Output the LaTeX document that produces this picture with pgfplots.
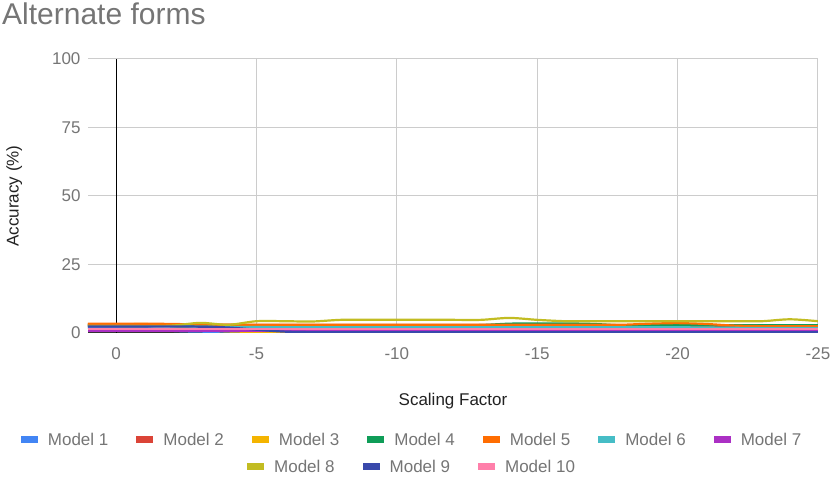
\documentclass[border=0pt]{standalone}
\usepackage{fontspec}
\setmainfont{Liberation Sans}
\usepackage{pgfplots}
\pgfplotsset{compat=1.18}
\usepackage{pgfplotstable}
\definecolor{c1}{HTML}{4285F4}
\definecolor{c2}{HTML}{DB4437}
\definecolor{c3}{HTML}{F4B400}
\definecolor{c4}{HTML}{0F9D58}
\definecolor{c5}{HTML}{FF6D01}
\definecolor{c6}{HTML}{46BDC6}
\definecolor{c7}{HTML}{AB30C4}
\definecolor{c8}{HTML}{C2BC22}
\definecolor{c9}{HTML}{3949AB}
\definecolor{c10}{HTML}{FF7FAA}
\definecolor{tickgray}{HTML}{757575}
\definecolor{labeldark}{HTML}{222222}
\definecolor{gridgray}{HTML}{CCCCCC}
\definecolor{axisdark}{HTML}{333333}

\pgfplotstableread{
x   m1  m2  m3  m4  m5  m6  m7  m8  m9  m10
1   1.9 3.2 3.0 2.8 3.4 2.6 0.8 2.5 2.4 1.4
0   1.9 3.2 3.0 2.8 3.4 2.6 0.8 2.5 2.4 1.4
-1  1.8 3.2 3.3 2.8 3.4 2.5 0.8 2.5 2.4 1.4
-2  0.8 3.2 2.5 2.8 3.3 2.4 0.8 2.7 2.4 1.4
-3  0.5 3.1 1.2 2.8 3.1 2.3 0.8 3.7 2.3 1.4
-4  0.5 3.0 0.6 2.8 3.0 2.2 0.8 3.0 2.0 1.4
-5  0.5 2.9 0.4 2.8 3.0 2.2 0.8 4.3 1.2 1.4
-6  0.5 2.9 0.3 2.8 3.0 2.1 0.8 4.3 0.5 1.4
-7  0.5 2.9 0.2 2.8 3.0 2.1 0.8 4.2 0.3 1.4
-8  0.5 2.9 0.2 2.8 3.0 2.1 0.8 4.8 0.3 1.4
-9  0.5 2.9 0.2 2.8 3.0 2.1 0.8 4.8 0.3 1.4
-10 0.5 2.9 0.2 2.8 3.0 2.1 0.8 4.8 0.3 1.4
-11 0.5 2.9 0.2 2.8 3.0 2.1 0.8 4.8 0.3 1.4
-12 0.5 2.9 0.2 2.8 3.0 2.1 0.8 4.8 0.3 1.4
-13 0.5 2.9 0.2 2.9 3.0 2.1 0.8 4.8 0.3 1.4
-14 0.5 2.9 0.2 3.4 3.0 2.1 0.8 5.5 0.3 1.4
-15 0.5 2.9 0.2 3.5 3.0 2.1 0.8 4.8 0.3 1.4
-16 0.5 2.9 0.2 3.5 3.0 2.1 0.8 4.3 0.3 1.4
-17 0.5 2.9 0.2 3.3 3.0 2.1 0.8 4.3 0.3 1.4
-18 0.5 2.7 0.2 2.8 3.0 2.1 0.8 4.3 0.3 1.4
-19 0.5 2.6 0.2 2.8 3.4 2.1 0.8 4.3 0.3 1.4
-20 0.5 2.6 0.2 2.8 3.6 2.1 0.8 4.3 0.3 1.4
-21 0.5 2.6 0.2 2.8 3.3 2.0 0.8 4.3 0.3 1.4
-22 0.5 2.6 0.2 2.8 2.7 1.9 0.8 4.3 0.3 1.4
-23 0.5 2.6 0.2 2.8 2.5 1.8 0.8 4.3 0.3 1.4
-24 0.5 2.6 0.2 2.8 2.5 1.8 0.8 5.0 0.3 1.4
-25 0.5 2.6 0.2 2.8 2.5 1.8 0.8 4.3 0.3 1.4
}\data

\pgfplotsset{
  commonaxis/.style={
    at={(88pt,145pt)}, anchor=south west,
    scale only axis, width=730pt, height=274pt,
    xmin=-25, xmax=1, x dir=reverse, ymin=0, ymax=100,
    legend image code/.code={\fill[##1, draw=none] (0pt,-3.5pt) rectangle (17pt,3.5pt);},
    legend cell align=left,
  },
  legbase/.style={anchor=center, draw=none, fill=none,
    font=\fontsize{17}{19}\selectfont, text=tickgray,
    /tikz/every odd column/.append style={column sep=8pt},
    /tikz/every even column/.append style={column sep=26pt}},
  ser/.style={color=#1, line width=2.2pt, smooth, no markers},
}

\begin{document}
\begin{tikzpicture}[x=1pt,y=1pt]
\path[use as bounding box] (0,0) rectangle (830,478);
\node[anchor=west, font=\fontsize{30}{34}\selectfont, text=tickgray, inner sep=0pt] at (2,464) {Alternate forms};
\begin{axis}[
  commonaxis,
  xtick={-5,-10,-15,-20,-25}, xticklabels={-5,-10,-15,-20,-25},
  extra x ticks={0}, extra x tick labels={0},
  extra x tick style={grid style={draw=black, line width=1pt}},
  ytick={0,25,50,75,100},
  grid=major, grid style={draw=gridgray, line width=1pt},
  axis x line*=bottom, axis y line*=left,
  x axis line style={draw=axisdark, line width=1pt, -},
  y axis line style={draw=none},
  major tick length=0pt,
  tick label style={font=\fontsize{17}{19}\selectfont, text=tickgray},
  /pgf/number format/assume math mode=true,
  xticklabel style={yshift=-11pt},
  yticklabel style={xshift=-4pt},
  xlabel={Scaling Factor}, ylabel={Accuracy (\%)},
  label style={font=\fontsize{17}{19}\selectfont, text=labeldark},
  xlabel style={at={(axis description cs:0.5,-0.248)}, anchor=center},
  ylabel style={at={(axis description cs:-0.101,0.5)}, anchor=center},
  legend style={legbase, at={(0.444,-0.39)}},
  legend columns=7,
]
\addplot[ser=c1] table[x=x,y=m1]{\data}; \addlegendentry{Model 1}
\addplot[ser=c2] table[x=x,y=m2]{\data}; \addlegendentry{Model 2}
\addplot[ser=c3] table[x=x,y=m3]{\data}; \addlegendentry{Model 3}
\addplot[ser=c4] table[x=x,y=m4]{\data}; \addlegendentry{Model 4}
\addplot[ser=c5] table[x=x,y=m5]{\data}; \addlegendentry{Model 5}
\addplot[ser=c6] table[x=x,y=m6]{\data}; \addlegendentry{Model 6}
\addplot[ser=c7] table[x=x,y=m7]{\data}; \addlegendentry{Model 7}
\end{axis}
\begin{axis}[
  commonaxis, hide axis,
  legend style={legbase, at={(0.444,-0.489)}},
  legend columns=3,
]
\addplot[ser=c8] table[x=x,y=m8]{\data}; \addlegendentry{Model 8}
\addplot[ser=c9] table[x=x,y=m9]{\data}; \addlegendentry{Model 9}
\addplot[ser=c10] table[x=x,y=m10]{\data}; \addlegendentry{Model 10}
\end{axis}
\end{tikzpicture}
\end{document}
